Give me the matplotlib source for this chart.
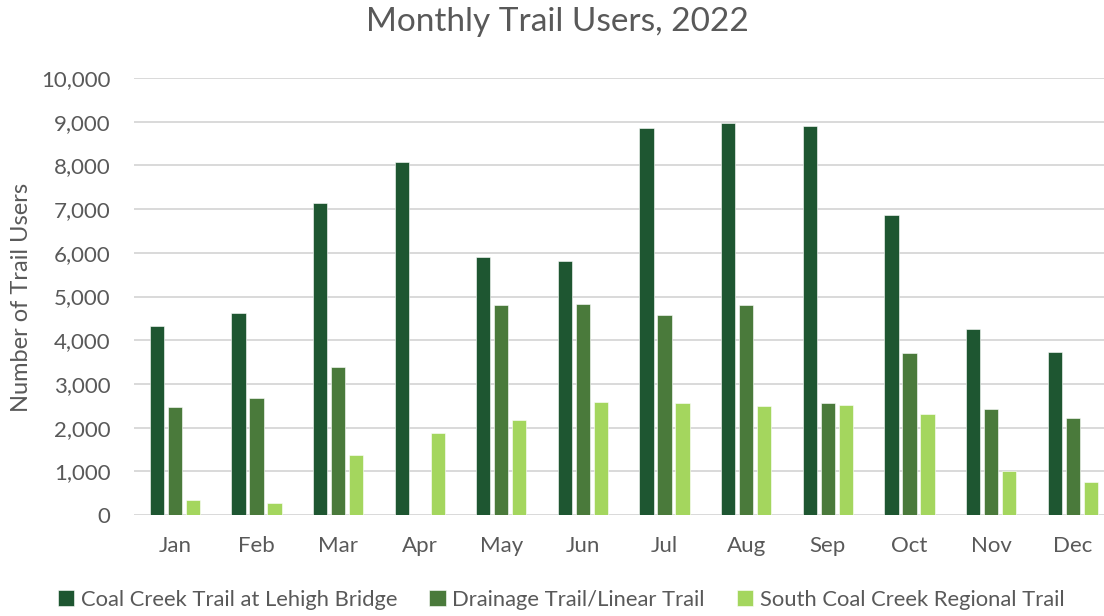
import matplotlib
matplotlib.use("Agg")
import matplotlib.pyplot as plt
import numpy as np
from matplotlib.ticker import FuncFormatter

months = ["Jan", "Feb", "Mar", "Apr", "May", "Jun", "Jul", "Aug", "Sep", "Oct", "Nov", "Dec"]
series_names = ["Coal Creek Trail at Lehigh Bridge", "Drainage Trail/Linear Trail",
                "South Coal Creek Regional Trail"]
coal_creek = [4325, 4615, 7130, 8070, 5905, 5805, 8865, 8970, 8900, 6860, 4265, 3730]
drainage = [2470, 2670, 3380, 0, 4800, 4835, 4580, 4800, 2555, 3700, 2420, 2210]
south_coal = [345, 285, 1365, 1875, 2165, 2580, 2555, 2495, 2510, 2310, 1000, 750]
colors = ["#1E5631", "#4A7A3B", "#A4D65E"]
yticks = [0, 1000, 2000, 3000, 4000, 5000, 6000, 7000, 8000, 9000, 10000]

plt.rcParams['font.family'] = ['Lato', 'DejaVu Sans']
W, H = 1104, 616
fig = plt.figure(figsize=(W / 100, H / 100), dpi=100)
left, right, top, bottom = 134, 1104, 78, 515
ax = fig.add_axes([left / W, 1 - bottom / H, (right - left) / W, (bottom - top) / H])

x = np.arange(len(months))
width = 0.175
step = 0.2205
for i, (vals, name, c) in enumerate(zip([coal_creek, drainage, south_coal], series_names, colors)):
    ax.bar(x + (i - 1) * step, vals, width, color=c, label=name, edgecolor="white",
           linewidth=0.4, zorder=3)

ax.set_xlim(-0.5, 11.383)
ax.set_ylim(0, 10000)
ax.set_yticks(yticks)
ax.yaxis.set_major_formatter(FuncFormatter(lambda v, p: f"{int(v):,}"))
ax.set_xticks(x)
ax.set_xticklabels(months)
ax.grid(axis="y", color="#D9D9D9", linewidth=1.4, zorder=0)
for s in ax.spines.values():
    s.set_visible(False)
ax.tick_params(axis="both", length=0, labelsize=16, colors="#595959")
ax.tick_params(axis="y", pad=17)
ax.tick_params(axis="x", pad=15)

fig.text(557 / W, 1 - 22 / H, "Monthly Trail Users, 2022", ha="center", va="center",
         fontsize=24, color="#595959")
fig.text(22 / W, 1 - 297 / H, "Number of Trail Users", ha="center", va="center",
         rotation=90, fontsize=17, color="#595959")

leg = fig.legend(loc="center", bbox_to_anchor=(561 / W, 1 - 600 / H), ncol=3, frameon=False,
                 fontsize=15.8, handlelength=0.75, handleheight=0.75, handletextpad=0.3,
                 columnspacing=1.45, labelcolor="#595959")

fig.savefig("out.png", dpi=100, facecolor="white")
